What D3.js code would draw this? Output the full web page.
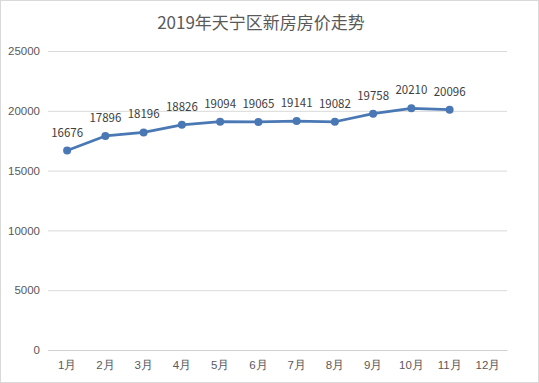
<!DOCTYPE html>
<html><head><meta charset="utf-8">
<script src="https://cdn.jsdelivr.net/npm/d3@7"></script>
<style>
html,body{margin:0;padding:0;background:#fff;}
svg{display:block;font-family:"Microsoft YaHei","Noto Sans CJK SC",sans-serif;}
</style></head><body>
<svg id="c" width="539" height="383"></svg>
<script>
const title = "2019年天宁区新房房价走势";
const categories = ["1月","2月","3月","4月","5月","6月","7月","8月","9月","10月","11月","12月"];
const values = [16676,17896,18196,18826,19094,19065,19141,19082,19758,20210,20096,null];
const yTicks = [0,5000,10000,15000,20000,25000];

const svg = d3.select("#c");
const W = 539, H = 383;
const m = {left:48, right:32, top:51, bottom:33};
svg.append("rect").attr("x",0.5).attr("y",0.5).attr("width",W-1).attr("height",H-1)
  .attr("fill","#fff").attr("stroke","#d9d9d9");

const x = d3.scaleBand().domain(categories).range([m.left, W-m.right]);
const y = d3.scaleLinear().domain([0,25000]).range([H-m.bottom, m.top]);

svg.append("text").attr("x",261).attr("y",29).attr("text-anchor","middle")
  .attr("font-size",17).attr("fill","#595959").text(title);

const yAxis = svg.append("g").attr("transform",`translate(${m.left},0)`)
  .call(d3.axisLeft(y).tickValues(yTicks).tickSize(-(W-m.left-m.right)).tickPadding(8).tickFormat(d3.format("d")));
yAxis.select(".domain").remove();
yAxis.selectAll(".tick line").attr("stroke","#d9d9d9").attr("stroke-width",1);
yAxis.selectAll(".tick text").attr("fill","#595959").attr("font-size",11.5);

const xAxis = svg.append("g").attr("transform",`translate(0,${H-m.bottom})`)
  .call(d3.axisBottom(x).tickSize(0).tickPadding(11));
xAxis.select(".domain").attr("stroke","#d0d0d0");
xAxis.selectAll(".tick text").attr("fill","#595959").attr("font-size",11.5);

const data = categories.map((c,i)=>({c, v:values[i]})).filter(d=>d.v!=null);
const line = d3.line().x(d=>x(d.c)+x.bandwidth()/2).y(d=>y(d.v));
svg.append("path").datum(data).attr("d",line).attr("fill","none")
  .attr("stroke","#4a78b5").attr("stroke-width",2.75).attr("stroke-linejoin","round");
svg.selectAll("circle.pt").data(data).join("circle").attr("class","pt")
  .attr("cx",d=>x(d.c)+x.bandwidth()/2).attr("cy",d=>y(d.v)).attr("r",4)
  .attr("fill","#4a78b5");
svg.selectAll("text.lbl").data(data).join("text").attr("class","lbl")
  .attr("x",d=>x(d.c)+x.bandwidth()/2).attr("y",d=>y(d.v)-14)
  .attr("text-anchor","middle").attr("font-size",11.5).attr("fill","#404040")
  .text(d=>d.v);
</script></body></html>
